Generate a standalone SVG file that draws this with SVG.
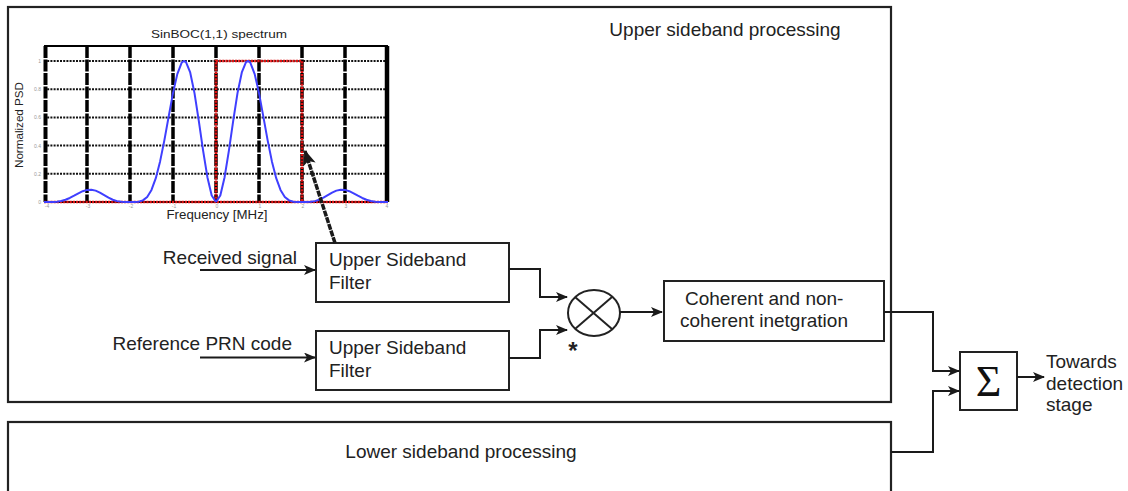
<svg xmlns="http://www.w3.org/2000/svg" width="1128" height="491" viewBox="0 0 1128 491">
<defs>
<marker id="ah" viewBox="0 0 12 10" refX="11" refY="5" markerWidth="12" markerHeight="10" markerUnits="userSpaceOnUse" orient="auto">
<path d="M0,0 L12,5 L0,10 L3,5 z" fill="#1a1a1a"/>
</marker>
<marker id="ahBig" viewBox="0 0 12 10" refX="11" refY="5" markerWidth="16" markerHeight="13" markerUnits="userSpaceOnUse" orient="auto">
<path d="M0,0 L12,5 L0,10 L3,5 z" fill="#1a1a1a"/>
</marker>
</defs>
<style>
.box{fill:#fff;stroke:#222;stroke-width:2}
.frame{fill:none;stroke:#222;stroke-width:2.2}
.t{font-family:"Liberation Sans",Arial,sans-serif;font-size:19px;fill:#222}
.c{fill:none;stroke:#1a1a1a;stroke-width:2}
.vg{stroke:#000;stroke-width:3.5;stroke-dasharray:12,1.5}
.hg{stroke:#111;stroke-width:2;stroke-dasharray:2,1.2}
.red{fill:none;stroke:#e01010;stroke-width:2.6;stroke-dasharray:2.2,1}
.tick{font-family:"Liberation Sans",Arial,sans-serif;font-size:5px;fill:#999}
.ct{font-family:"Liberation Sans",Arial,sans-serif;fill:#222}
</style>

<g id="upper-sideband">
<rect class="frame" x="8" y="7" width="883" height="395"/>
<text class="t" x="725" y="36" text-anchor="middle">Upper sideband processing</text>
</g>

<g id="lower-sideband">
<rect class="frame" x="8" y="422" width="883" height="80"/>
<text class="t" x="461" y="458" text-anchor="middle">Lower sideband processing</text>
</g>

<g id="spectrum-chart">
<text class="ct" x="219" y="38" font-size="11" text-anchor="middle" textLength="136" lengthAdjust="spacingAndGlyphs">SinBOC(1,1) spectrum</text>
<text class="ct" font-size="11.5" text-anchor="middle" transform="translate(23,125) rotate(-90)" textLength="86" lengthAdjust="spacingAndGlyphs">Normalized PSD</text>
<text class="ct" x="217" y="219" font-size="13" text-anchor="middle" textLength="101" lengthAdjust="spacingAndGlyphs">Frequency [MHz]</text>
<g>
<line class="hg" x1="44" y1="61" x2="388" y2="61"/>
<line class="hg" x1="44" y1="89.2" x2="388" y2="89.2"/>
<line class="hg" x1="44" y1="117.4" x2="388" y2="117.4"/>
<line class="hg" x1="44" y1="145.6" x2="388" y2="145.6"/>
<line class="hg" x1="44" y1="173.8" x2="388" y2="173.8"/>
</g>
<g>
<line class="vg" x1="87" y1="46" x2="87" y2="202"/>
<line class="vg" x1="130" y1="46" x2="130" y2="202"/>
<line class="vg" x1="173" y1="46" x2="173" y2="202"/>
<line class="vg" x1="216" y1="46" x2="216" y2="202"/>
<line class="vg" x1="259" y1="46" x2="259" y2="202"/>
<line class="vg" x1="302" y1="46" x2="302" y2="202"/>
<line class="vg" x1="345" y1="46" x2="345" y2="202"/>
</g>
<line x1="44" y1="46" x2="388" y2="46" stroke="#000" stroke-width="2"/>
<line x1="45.5" y1="46" x2="45.5" y2="202" stroke="#000" stroke-width="4" stroke-dasharray="12,1.5"/>
<line x1="387" y1="46" x2="387" y2="202" stroke="#000" stroke-width="4.5"/>
<line x1="44" y1="202" x2="388" y2="202" stroke="#000" stroke-width="2"/>
<line class="red" x1="44" y1="202" x2="388" y2="202"/>
<polyline class="red" points="216,202 216,61 302,61 302,202"/>
<g transform="translate(216,202) scale(43,-141)">
<polyline fill="none" stroke="#3f3fff" stroke-width="2" vector-effect="non-scaling-stroke" stroke-linejoin="round"
points="0,0 0.1,0.0462 0.2,0.176 0.3,0.3644 0.4,0.576 0.5,0.772 0.6,0.9187 0.7,0.993 0.75,1 0.8,0.9869 0.9,0.907 1,0.772 1.1,0.6072 1.2,0.4386 1.3,0.2879 1.4,0.1687 1.5,0.0858 1.6,0.036 1.7,0.0114 1.8,0.0022 1.9,0.0001 2,0 2.1,0.0001 2.2,0.0015 2.3,0.0062 2.4,0.016 2.5,0.0309 2.6,0.0489 2.7,0.0667 2.8,0.0806 2.9,0.0874 3,0.0858 3.1,0.0765 3.2,0.0617 3.3,0.0447 3.4,0.0286 3.5,0.0158 3.6,0.0071 3.7,0.0024 3.8,0.0005 3.9,0 4,0"/>
<polyline fill="none" stroke="#3f3fff" stroke-width="2" vector-effect="non-scaling-stroke" stroke-linejoin="round"
points="0,0 -0.1,0.0462 -0.2,0.176 -0.3,0.3644 -0.4,0.576 -0.5,0.772 -0.6,0.9187 -0.7,0.993 -0.75,1 -0.8,0.9869 -0.9,0.907 -1,0.772 -1.1,0.6072 -1.2,0.4386 -1.3,0.2879 -1.4,0.1687 -1.5,0.0858 -1.6,0.036 -1.7,0.0114 -1.8,0.0022 -1.9,0.0001 -2,0 -2.1,0.0001 -2.2,0.0015 -2.3,0.0062 -2.4,0.016 -2.5,0.0309 -2.6,0.0489 -2.7,0.0667 -2.8,0.0806 -2.9,0.0874 -3,0.0858 -3.1,0.0765 -3.2,0.0617 -3.3,0.0447 -3.4,0.0286 -3.5,0.0158 -3.6,0.0071 -3.7,0.0024 -3.8,0.0005 -3.9,0 -4,0"/>
</g>
<g class="tick" text-anchor="end">
<text x="41" y="63">1</text>
<text x="41" y="91">0.8</text>
<text x="41" y="119">0.6</text>
<text x="41" y="148">0.4</text>
<text x="41" y="176">0.2</text>
<text x="41" y="204">0</text>
</g>
<g class="tick" text-anchor="middle">
<text x="47" y="208">-4</text>
<text x="88" y="208">-3</text>
<text x="131" y="208">-2</text>
<text x="174" y="208">-1</text>
<text x="217" y="208">0</text>
<text x="260" y="208">1</text>
<text x="303" y="208">2</text>
<text x="346" y="208">3</text>
<text x="387" y="208">4</text>
</g>
</g>

<g id="filter-upper">
<rect class="box" x="316" y="243" width="193" height="59"/>
<text class="t" x="329" y="266">Upper Sideband</text>
<text class="t" x="329" y="289">Filter</text>
</g>

<g id="filter-lower">
<rect class="box" x="316" y="331" width="193" height="59"/>
<text class="t" x="329" y="354">Upper Sideband</text>
<text class="t" x="329" y="377">Filter</text>
</g>

<g id="received-signal">
<text class="t" x="297" y="264" text-anchor="end">Received signal</text>
</g>

<g id="reference-prn">
<text class="t" x="292" y="350" text-anchor="end">Reference PRN code</text>
</g>

<g id="multiplier">
<ellipse cx="594" cy="313" rx="26" ry="23" fill="#fff" stroke="#222" stroke-width="2"/>
<line x1="575" y1="297" x2="612" y2="329" stroke="#222" stroke-width="2"/>
<line x1="612" y1="297" x2="575" y2="329" stroke="#222" stroke-width="2"/>
<text class="t" x="573" y="359" text-anchor="middle" style="font-size:24px;font-weight:bold">*</text>
</g>

<g id="integration">
<rect class="box" x="664" y="281" width="220" height="60"/>
<text class="t" x="685" y="305">Coherent and non-</text>
<text class="t" x="680" y="327">coherent inetgration</text>
</g>

<g id="sum">
<rect class="box" x="960" y="352" width="57" height="58"/>
<text x="988.5" y="396" text-anchor="middle" font-family="'Liberation Serif','Times New Roman',serif" font-size="44" fill="#111">Σ</text>
</g>

<g id="output-label">
<text class="t" x="1046" y="368">Towards</text>
<text class="t" x="1046" y="390">detection</text>
<text class="t" x="1046" y="411">stage</text>
</g>

<g id="connectors">
<path class="c" d="M200,270 H315" marker-end="url(#ah)"/>
<path class="c" d="M200,357.5 H315" marker-end="url(#ah)"/>
<path class="c" d="M509,269 H540 V297 H567" marker-end="url(#ah)"/>
<path class="c" d="M509,358 H540 V330 H567" marker-end="url(#ah)"/>
<path class="c" d="M620,312 H662" marker-end="url(#ah)"/>
<path class="c" d="M884,312 H933 V371 H959" marker-end="url(#ah)"/>
<path class="c" d="M891,452 H933 V391 H959" marker-end="url(#ah)"/>
<path class="c" d="M1017,377 H1044" marker-end="url(#ah)"/>
<path d="M335,243 L305,151" fill="none" stroke="#1a1a1a" stroke-width="3.5" stroke-dasharray="6,1" marker-end="url(#ahBig)"/>
</g>
</svg>
